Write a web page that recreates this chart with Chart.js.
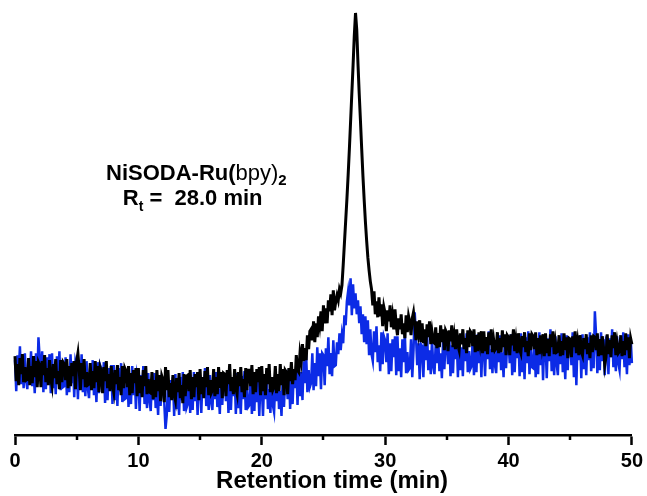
<!DOCTYPE html>
<html>
<head>
<meta charset="utf-8">
<script src="https://cdn.jsdelivr.net/npm/chart.js@4.4.1/dist/chart.umd.min.js"></script>
<style>
  html, body { margin: 0; padding: 0; background: #fff; }
  #wrap { width: 647px; height: 496px; }
</style>
</head>
<body>
<div id="wrap"><canvas id="c" width="647" height="496"></canvas></div>
<script>
// Detector traces sampled every 0.1 min from 0 to 50 min (one row = one minute)
const timeStep = 0.1;
const timeStart = 0;

// Black trace (absorbance, arbitrary units)
const blackTrace = [
  7.9, 5.4, 7.1, 5.0, 7.7, 6.1, 8.1, 5.3, 6.8, 5.5,
  5.6, 7.7, 5.0, 6.9, 5.2, 7.9, 5.8, 7.4, 4.8, 7.3,
  7.0, 4.8, 7.4, 6.0, 8.0, 5.3, 6.7, 5.0, 7.5, 5.6,
  4.9, 7.1, 5.7, 7.6, 5.1, 6.4, 4.6, 7.5, 5.3, 7.3,
  7.1, 5.5, 7.6, 4.7, 6.9, 4.9, 7.2, 5.9, 7.4, 4.6,
  7.4, 8.2, 6.6, 4.5, 7.2, 5.6, 7.6, 4.8, 6.3, 5.0,
  5.1, 7.2, 4.5, 6.4, 4.7, 7.4, 5.3, 6.9, 4.3, 6.8,
  6.4, 4.2, 6.8, 5.4, 7.4, 4.7, 6.1, 4.4, 6.9, 5.0,
  4.3, 6.5, 5.1, 7.0, 4.5, 5.8, 4.0, 6.9, 4.7, 6.7,
  6.4, 4.8, 6.9, 4.0, 6.2, 4.2, 6.5, 5.2, 6.7, 3.9,
  6.7, 4.2, 5.9, 3.8, 6.5, 4.9, 6.9, 4.1, 5.6, 4.3,
  4.2, 6.3, 3.6, 5.5, 3.8, 6.5, 4.4, 6.0, 3.4, 5.9,
  5.5, 3.3, 6.8, 4.5, 6.5, 3.8, 5.2, 3.5, 6.0, 4.1,
  3.5, 5.7, 4.3, 6.2, 3.7, 5.0, 3.2, 6.1, 3.9, 5.9,
  6.0, 4.4, 6.5, 3.6, 5.8, 3.8, 6.1, 4.8, 6.3, 3.5,
  6.6, 4.1, 5.8, 3.7, 6.4, 4.8, 6.8, 4.0, 5.5, 4.2,
  4.5, 6.6, 3.9, 5.8, 4.1, 6.8, 4.7, 6.3, 3.7, 6.2,
  6.1, 3.9, 6.5, 5.1, 7.1, 4.4, 5.8, 4.1, 6.6, 4.7,
  4.1, 6.3, 4.9, 6.8, 4.3, 5.6, 3.8, 6.7, 4.5, 6.5,
  6.5, 4.9, 7.0, 4.1, 6.3, 4.3, 6.6, 5.3, 6.8, 4.0,
  6.9, 4.4, 6.1, 4.0, 6.7, 5.1, 7.1, 4.3, 5.8, 4.5,
  4.8, 6.9, 4.2, 6.1, 4.4, 7.1, 5.0, 6.6, 4.0, 6.5,
  6.3, 4.1, 6.7, 5.4, 7.3, 5.1, 6.6, 5.5, 8.0, 6.5,
  6.3, 8.2, 7.4, 9.1, 7.4, 8.7, 7.5, 10.0, 8.6, 10.4,
  10.6, 9.5, 11.4, 9.3, 11.2, 9.8, 11.9, 11.0, 12.4, 10.4,
  13.0, 11.2, 12.7, 11.2, 13.5, 12.4, 14.1, 12.0, 14.5, 12.5,
  13.4, 14.0, 13.5, 14.6, 14.2, 15.0, 17.0, 19.2, 21.4, 23.6,
  26.0, 28.6, 31.4, 34.2, 37.0, 40.0, 42.3, 40.6, 37.2, 34.2,
  31.5, 28.7, 26.0, 23.6, 21.4, 19.5, 17.8, 16.5, 15.4, 14.6,
  13.0, 14.4, 12.1, 13.4, 11.8, 13.8, 11.9, 13.1, 10.9, 12.8,
  12.2, 10.4, 12.5, 11.4, 13.0, 10.8, 11.9, 10.6, 12.6, 11.0,
  10.0, 11.7, 10.6, 12.1, 10.1, 11.2, 9.7, 12.0, 10.3, 11.9,
  11.3, 10.0, 11.7, 12.3, 11.1, 9.5, 11.4, 10.3, 11.5, 9.3,
  11.2, 9.2, 10.6, 8.9, 11.1, 9.8, 11.4, 9.1, 10.3, 9.3,
  9.2, 10.8, 8.7, 10.2, 8.8, 11.0, 9.3, 10.6, 8.5, 10.5,
  10.2, 8.4, 10.5, 9.4, 11.0, 8.8, 9.9, 8.6, 10.6, 9.0,
  8.5, 10.2, 9.1, 10.6, 8.6, 9.7, 8.2, 10.5, 8.8, 10.4,
  10.2, 8.9, 10.6, 8.3, 10.0, 8.4, 10.3, 9.2, 10.4, 8.2,
  10.4, 8.4, 9.8, 8.1, 10.3, 9.0, 10.6, 8.3, 9.5, 8.5,
  8.7, 10.3, 8.2, 9.7, 8.3, 10.5, 8.8, 10.1, 8.0, 10.0,
  9.8, 8.0, 10.1, 9.0, 10.6, 8.4, 9.5, 8.2, 10.2, 8.6,
  8.2, 9.9, 8.8, 10.3, 8.3, 9.4, 7.9, 10.2, 8.5, 10.1,
  9.9, 8.6, 10.3, 8.0, 9.7, 8.1, 10.0, 8.9, 10.1, 7.9,
  10.2, 8.2, 9.6, 7.9, 10.1, 8.8, 10.4, 8.1, 9.3, 8.3,
  8.4, 10.0, 7.9, 9.4, 8.0, 10.2, 8.5, 9.8, 7.7, 9.7,
  9.6, 7.8, 9.9, 8.8, 10.4, 8.2, 9.3, 8.0, 10.0, 8.4,
  8.0, 9.7, 8.6, 10.1, 8.1, 9.2, 7.7, 10.0, 8.3, 9.9,
  9.8, 8.5, 10.2, 7.9, 9.6, 8.0, 9.9, 8.8, 7.0, 7.8,
  10.1, 8.1, 9.5, 7.8, 10.0, 8.7, 10.3, 8.0, 9.2, 8.2,
  8.4, 10.0, 7.9, 9.4, 8.0, 10.2, 8.5, 9.8, 7.7, 9.7,
  9.1
];

// Blue trace (absorbance, arbitrary units)
const blueTrace = [
  7.5, 4.4, 8.0, 6.1, 8.9, 5.1, 7.1, 4.7, 8.2, 5.5,
  4.6, 7.7, 5.7, 8.4, 4.9, 6.7, 4.2, 8.2, 5.1, 9.8,
  7.7, 5.5, 8.4, 4.3, 7.4, 4.6, 7.8, 6.0, 8.1, 4.2,
  8.2, 4.7, 7.0, 4.1, 7.9, 5.6, 8.4, 4.5, 6.6, 4.8,
  4.9, 7.8, 4.0, 6.7, 4.3, 8.1, 5.2, 7.4, 3.8, 7.3,
  6.7, 3.6, 7.2, 5.3, 8.1, 4.3, 6.3, 3.9, 7.4, 4.7,
  3.7, 6.8, 4.8, 7.5, 4.0, 5.8, 3.3, 7.3, 4.2, 7.0,
  6.6, 4.4, 7.3, 3.2, 6.3, 3.5, 6.7, 4.9, 7.0, 3.1,
  7.0, 3.5, 5.8, 2.9, 6.7, 4.4, 7.2, 3.3, 5.4, 3.6,
  3.7, 6.6, 2.8, 5.5, 3.1, 6.9, 4.0, 6.2, 2.6, 6.1,
  5.5, 2.4, 6.0, 4.1, 6.9, 3.1, 5.1, 2.7, 6.2, 3.5,
  2.4, 5.5, 3.5, 6.2, 2.7, 4.5, 2.0, 6.0, 2.9, 5.7,
  5.4, 3.2, 0.6, 2.0, 5.1, 2.3, 5.5, 3.7, 5.8, 1.9,
  6.1, 2.6, 4.9, 2.0, 5.8, 3.5, 6.3, 2.4, 4.5, 2.7,
  3.1, 6.0, 2.2, 4.9, 2.5, 6.3, 3.4, 5.6, 2.0, 5.5,
  5.3, 2.2, 5.8, 3.9, 6.7, 2.9, 4.9, 2.5, 6.0, 3.3,
  2.5, 5.6, 3.6, 6.3, 2.8, 4.6, 2.1, 6.1, 3.0, 5.8,
  5.6, 3.4, 6.3, 2.2, 5.3, 2.5, 5.7, 3.9, 6.0, 2.1,
  6.2, 2.7, 5.0, 2.1, 5.9, 3.6, 6.4, 2.5, 4.6, 2.8,
  3.0, 5.9, 2.1, 4.8, 2.4, 6.2, 3.3, 5.5, 1.9, 5.4,
  5.0, 1.9, 5.5, 3.6, 6.4, 2.6, 4.6, 2.2, 5.7, 3.0,
  2.3, 5.4, 3.4, 6.1, 2.6, 4.4, 1.9, 5.9, 2.8, 5.6,
  5.7, 3.6, 6.6, 2.6, 5.8, 3.1, 6.4, 4.7, 6.8, 3.0,
  7.3, 3.9, 6.3, 3.5, 7.4, 5.2, 8.1, 4.3, 6.5, 4.8,
  5.2, 8.2, 4.5, 7.2, 4.9, 8.8, 5.9, 8.2, 4.6, 8.2,
  8.0, 5.0, 8.7, 6.9, 9.8, 6.1, 8.2, 5.9, 9.5, 6.9,
  7.0, 9.3, 8.1, 10.2, 8.5, 10.1, 9.2, 12.0, 11.0, 13.4,
  14.4, 13.0, 15.7, 12.0, 15.1, 12.7, 14.2, 12.1, 13.5, 11.2,
  12.9, 10.1, 12.1, 9.3, 11.9, 9.1, 11.5, 8.0, 10.6, 8.1,
  7.4, 10.4, 8.3, 10.9, 7.3, 9.0, 6.4, 10.3, 7.1, 9.9,
  9.5, 7.3, 10.2, 6.1, 9.2, 6.4, 9.6, 7.8, 9.9, 6.0,
  9.9, 6.4, 8.7, 5.8, 9.6, 7.3, 10.1, 6.2, 8.3, 6.5,
  6.7, 9.6, 5.8, 8.5, 12.3, 9.9, 7.0, 9.2, 5.6, 9.1,
  8.9, 5.8, 9.4, 7.5, 10.3, 6.5, 8.5, 6.1, 9.6, 6.9,
  6.1, 9.2, 7.2, 9.9, 6.4, 8.2, 5.7, 9.7, 6.6, 9.4,
  9.3, 7.1, 10.0, 5.9, 9.0, 6.2, 9.4, 7.6, 9.7, 5.8,
  10.0, 6.5, 8.8, 5.9, 9.7, 7.4, 10.2, 6.3, 8.4, 6.6,
  6.9, 9.8, 6.0, 8.7, 6.3, 10.1, 7.2, 9.4, 5.8, 9.3,
  9.0, 5.9, 9.5, 7.6, 10.4, 6.6, 8.6, 6.2, 9.7, 7.0,
  6.2, 9.3, 7.3, 10.0, 6.5, 8.3, 5.8, 9.8, 6.7, 9.5,
  9.4, 7.2, 10.1, 6.0, 9.1, 6.3, 9.5, 7.7, 9.8, 5.9,
  10.2, 6.3, 9.0, 5.6, 9.8, 7.2, 10.4, 6.1, 8.7, 6.8,
  6.7, 10.0, 5.8, 8.9, 6.1, 10.3, 7.0, 9.6, 5.5, 9.4,
  9.2, 5.7, 9.7, 7.4, 10.6, 6.4, 8.8, 6.0, 9.9, 7.2,
  6.0, 9.5, 7.1, 10.2, 6.3, 8.5, 5.6, 10.0, 6.5, 9.7,
  9.6, 7.0, 10.3, 5.8, 9.3, 5.0, 9.7, 7.5, 10.0, 5.7,
  10.1, 6.6, 8.9, 6.0, 9.8, 7.5, 10.3, 6.4, 8.5, 6.7,
  12.4, 10.0, 6.2, 8.9, 6.5, 10.3, 7.4, 9.6, 6.0, 9.5,
  9.2, 6.1, 9.7, 7.8, 10.6, 6.8, 8.8, 6.4, 9.9, 7.2,
  6.5, 9.6, 7.6, 10.3, 6.8, 8.6, 6.1, 10.1, 7.0, 9.8,
  7.2
];

// Axis ticks
const majorTicks = [0, 10, 20, 30, 40, 50];
const minorTicks = [5, 15, 25, 35, 45];
const axisTitle = 'Retention time (min)';

// Peak annotation (rich text runs)
const labelLine1 = [
  { text: 'NiSODA-Ru(', weight: 'bold', size: 22, shift: 0 },
  { text: 'bpy)', weight: 'normal', size: 22, shift: 0 },
  { text: '2', weight: 'bold', size: 15, shift: 5 }
];
const labelLine2 = [
  { text: 'R', weight: 'bold', size: 22, shift: 0 },
  { text: 't', weight: 'bold', size: 14, shift: 6 },
  { text: ' =  28.0 min', weight: 'bold', size: 22, shift: 0 }
];

const FONT = '"Liberation Sans", Arial, Helvetica, sans-serif';

function toPoints(values) {
  return values.map((v, i) => ({ x: +(timeStart + i * timeStep).toFixed(1), y: v }));
}

function drawRich(ctx, parts, cx, baseline) {
  let total = 0;
  parts.forEach(p => {
    ctx.font = p.weight + ' ' + p.size + 'px ' + FONT;
    p.w = ctx.measureText(p.text).width;
    total += p.w;
  });
  let x = cx - total / 2;
  ctx.textAlign = 'left';
  ctx.textBaseline = 'alphabetic';
  parts.forEach(p => {
    ctx.font = p.weight + ' ' + p.size + 'px ' + FONT;
    ctx.fillText(p.text, x, baseline + p.shift);
    x += p.w;
  });
}

const extras = {
  id: 'extras',
  afterDraw(chart) {
    const { ctx, chartArea, scales } = chart;
    const xs = scales.x, ys = scales.y;
    ctx.save();
    // short minor tick marks between the labelled ones
    ctx.strokeStyle = '#000';
    ctx.lineWidth = 2.5;
    minorTicks.forEach(v => {
      const px = Math.round(xs.getPixelForValue(v));
      ctx.beginPath();
      ctx.moveTo(px, chartArea.bottom);
      ctx.lineTo(px, chartArea.bottom + 5);
      ctx.stroke();
    });
    // axis title
    ctx.fillStyle = '#000';
    ctx.font = 'bold 24px ' + FONT;
    ctx.textAlign = 'center';
    ctx.textBaseline = 'alphabetic';
    ctx.fillText(axisTitle, xs.getPixelForValue(25.7), chartArea.bottom + 53);
    // peak label
    drawRich(ctx, labelLine1, xs.getPixelForValue(14.7), ys.getPixelForValue(25.6));
    drawRich(ctx, labelLine2, xs.getPixelForValue(14.4), ys.getPixelForValue(23.1));
    ctx.restore();
  }
};

new Chart(document.getElementById('c'), {
  type: 'line',
  data: {
    datasets: [
      {
        label: 'black',
        data: toPoints(blackTrace),
        borderColor: '#000000',
        borderWidth: 3,
        pointRadius: 0,
        tension: 0,
        order: 0,
        clip: false
      },
      {
        label: 'blue',
        data: toPoints(blueTrace),
        borderColor: '#0c2be6',
        borderWidth: 2.5,
        pointRadius: 0,
        tension: 0,
        order: 1,
        clip: false
      }
    ]
  },
  options: {
    responsive: false,
    animation: false,
    events: [],
    layout: { padding: { left: 15, right: 15, top: 5, bottom: 19 } },
    plugins: {
      legend: { display: false },
      tooltip: { enabled: false }
    },
    scales: {
      x: {
        type: 'linear',
        min: 0,
        max: 50,
        afterBuildTicks(scale) {
          scale.ticks = majorTicks.map(v => ({ value: v }));
        },
        ticks: {
          autoSkip: false,
          maxRotation: 0,
          padding: 4,
          color: '#000',
          font: { family: FONT, size: 20, weight: 'bold' }
        },
        grid: {
          drawOnChartArea: false,
          drawTicks: true,
          tickLength: 10,
          tickWidth: 2.5,
          tickColor: '#000'
        },
        border: { display: true, color: '#000', width: 2.5 },
        title: { display: false }
      },
      y: {
        display: false,
        min: 0,
        max: 43.1
      }
    }
  },
  plugins: [extras]
});
</script>
</body>
</html>
